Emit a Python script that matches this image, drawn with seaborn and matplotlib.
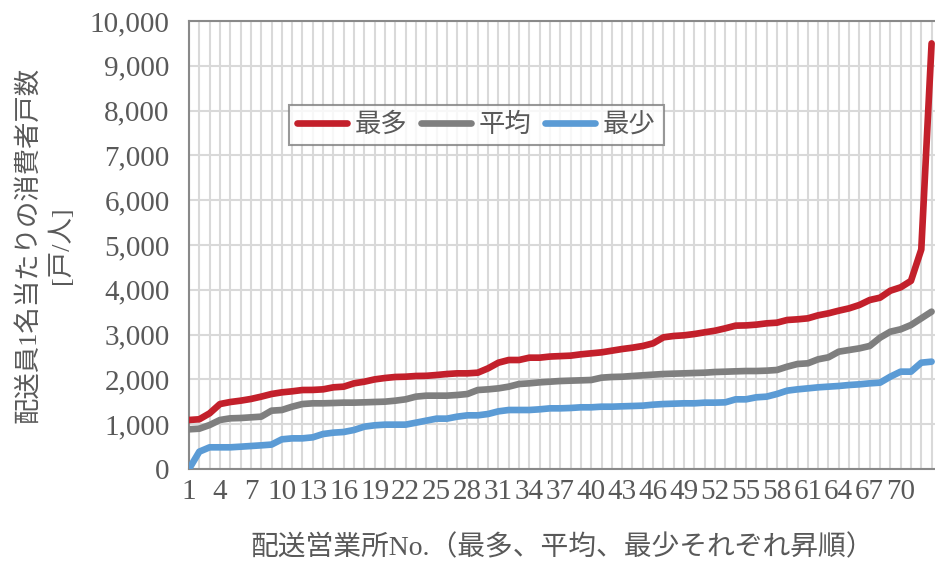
import numpy as np
import pandas as pd
import matplotlib
matplotlib.use("Agg")
import matplotlib.pyplot as plt
from matplotlib.ticker import FuncFormatter, MultipleLocator
import seaborn as sns

# Données (valeurs triées par ordre croissant)
no_bureau = list(range(1, 74))
val_max = [1094, 1110, 1243, 1450, 1495, 1525, 1563, 1615, 1674, 1711,
           1734, 1763, 1765, 1778, 1823, 1838, 1912, 1949, 2000, 2031,
           2054, 2060, 2076, 2080, 2098, 2120, 2135, 2135, 2150, 2247,
           2373, 2433, 2433, 2485, 2485, 2510, 2520, 2530, 2560, 2582,
           2604, 2641, 2678, 2708, 2746, 2805, 2939, 2969, 2984, 3013,
           3051, 3087, 3140, 3200, 3205, 3222, 3251, 3266, 3326, 3341,
           3363, 3430, 3475, 3534, 3586, 3661, 3772, 3824, 3980, 4055,
           4200, 4900, 9500]
val_moy = [886, 900, 982, 1094, 1131, 1138, 1153, 1168, 1302, 1317,
           1391, 1450, 1466, 1466, 1473, 1481, 1481, 1488, 1496, 1503,
           1525, 1555, 1615, 1637, 1637, 1637, 1652, 1674, 1763, 1778,
           1800, 1838, 1897, 1912, 1934, 1949, 1964, 1972, 1979, 1987,
           2039, 2054, 2060, 2076, 2091, 2106, 2120, 2128, 2135, 2143,
           2150, 2165, 2172, 2180, 2187, 2187, 2195, 2210, 2284, 2344,
           2359, 2448, 2493, 2619, 2656, 2693, 2746, 2931, 3065, 3118,
           3214, 3363, 3512]
val_min = [0, 387, 484, 484, 484, 498, 513, 528, 545, 662,
           684, 684, 707, 781, 811, 826, 871, 945, 975, 990,
           990, 990, 1034, 1079, 1124, 1124, 1168, 1198, 1198, 1228,
           1287, 1317, 1317, 1317, 1332, 1354, 1354, 1362, 1377, 1377,
           1391, 1391, 1399, 1406, 1414, 1436, 1450, 1458, 1466, 1466,
           1481, 1481, 1488, 1555, 1555, 1600, 1615, 1674, 1749, 1778,
           1800, 1823, 1838, 1853, 1875, 1890, 1912, 1927, 2061, 2173,
           2173, 2373, 2396]
series = ["最多", "平均", "最少"]
couleurs = ["#c3202b", "#7f7f7f", "#5b9bd5"]

df = pd.DataFrame({
    "No": no_bureau * 3,
    "valeur": val_max + val_moy + val_min,
    "serie": [s for s in series for _ in no_bureau],
})

sns.set_style("white")
plt.rcParams["font.family"] = ["Liberation Serif", "Noto Sans CJK JP"]
gris_txt = "#595959"

fig = plt.figure(figsize=(9.35, 5.67), dpi=100)
ax = fig.add_axes([189 / 935, 98 / 567, 746 / 935, 448 / 567])

sns.lineplot(data=df, x="No", y="valeur", hue="serie", hue_order=series,
             palette=couleurs, linewidth=4.8, legend=False, ax=ax, zorder=3)

ax.set_xlim(1, 1 + 745 / 10.3)
ax.set_ylim(0, 10000)
ax.xaxis.set_major_locator(MultipleLocator(1))
ax.yaxis.set_major_locator(MultipleLocator(1000))
ax.grid(True, color="#d9d9d9", linewidth=1.5, zorder=0)
ax.set_axisbelow(True)

ax.set_xticks(range(1, 74), labels=[str(i) if (i - 1) % 3 == 0 and i <= 70 else "" for i in range(1, 74)])
ax.yaxis.set_major_formatter(FuncFormatter(lambda v, p: f"{int(v):,}"))
ax.tick_params(axis="both", length=0, labelsize=21, colors=gris_txt)
ax.tick_params(axis="x", labelsize=21, pad=7)
ax.tick_params(axis="y", pad=14)

for s in ["left", "bottom", "top"]:
    ax.spines[s].set_color("#898989")
    ax.spines[s].set_linewidth(1.5)
ax.spines["right"].set_visible(False)

ax.set_xlabel("配送営業所No.（最多、平均、最少それぞれ昇順）", fontsize=20,
              color=gris_txt, labelpad=22)
ax.set_ylabel("配送員1名当たりの消費者戸数\n[戸/人]", fontsize=19,
              color=gris_txt, labelpad=12, linespacing=1.35)

leg = ax.legend(handles=ax.lines[:3], labels=series, ncol=3, loc="center",
                bbox_to_anchor=(0.385, 0.768), fontsize=19, frameon=True,
                fancybox=False, edgecolor="#7f7f7f", handlelength=1.9,
                handletextpad=0.3, columnspacing=0.5, borderpad=0.3)
leg.get_frame().set_linewidth(1.5)
for t in leg.get_texts():
    t.set_color(gris_txt)

fig.savefig("out.png", dpi=100)
